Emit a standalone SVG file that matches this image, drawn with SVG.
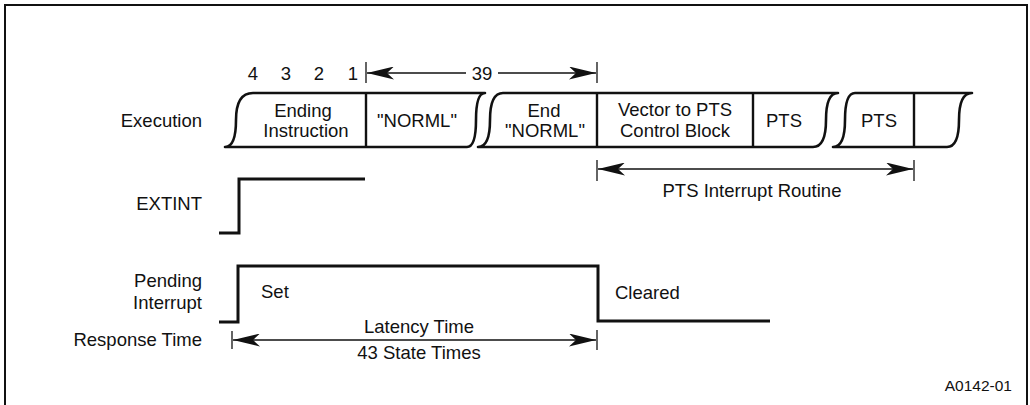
<svg xmlns="http://www.w3.org/2000/svg" width="1030" height="405" viewBox="0 0 1030 405">
<style>
text{font-family:"Liberation Sans",Arial,sans-serif;font-size:18.5px;fill:#111}
.m{text-anchor:middle}
.r{text-anchor:end}
.seg{fill:#fff;stroke:#111;stroke-width:2.6;stroke-linejoin:round}
.div{stroke:#111;stroke-width:2.4}
.wave{fill:none;stroke:#111;stroke-width:3}
.dim{stroke:#111;stroke-width:1.3;fill:none}
.tick{stroke:#111;stroke-width:1.3}
</style>
<defs>
<marker id="ah" viewBox="0 0 27 13" markerWidth="27" markerHeight="13" refX="27" refY="6.5" orient="auto-start-reverse" markerUnits="userSpaceOnUse">
<path d="M0,0 L27,6.5 L0,13 L7,6.5 Z" fill="#111"/>
</marker>
</defs>
<rect width="1030" height="405" fill="#fff"/>
<path d="M5,406 V5 H1027 V406" fill="none" stroke="#111" stroke-width="2"/>

<g id="labels">
<text class="r" x="202" y="127">Execution</text>
<text class="r" x="202" y="210">EXTINT</text>
<text class="r" x="202" y="287">Pending</text>
<text class="r" x="202" y="309">Interrupt</text>
<text class="r" x="202" y="346">Response Time</text>
<text class="m" x="253" y="80">4</text>
<text class="m" x="286" y="80">3</text>
<text class="m" x="319" y="80">2</text>
<text class="m" x="353" y="80">1</text>
<text x="1012" y="391" class="r" style="font-size:15.5px">A0142-01</text>
</g>

<g id="seg1">
<path class="seg" d="M253,93 H485 Q476,93 476,120 Q476,147 467,147 H225 Q236,147 236,120 Q236,93 253,93 Z"/>
<line class="div" x1="366" y1="93" x2="366" y2="147"/>
<text class="m" x="303" y="117">Ending</text>
<text class="m" x="306" y="137">Instruction</text>
<text class="m" x="417" y="127">"NORML"</text>
</g>

<g id="seg2">
<path class="seg" d="M503,93 H838 Q826,93 826,120 Q826,147 813,147 H478 Q490,147 490,120 Q490,93 503,93 Z"/>
<line class="div" x1="597" y1="93" x2="597" y2="147"/>
<line class="div" x1="753" y1="93" x2="753" y2="147"/>
<text class="m" x="544" y="117">End</text>
<text class="m" x="545" y="137">"NORML"</text>
<text class="m" x="675" y="116">Vector to PTS</text>
<text class="m" x="675" y="137">Control Block</text>
<text class="m" x="784" y="127">PTS</text>
</g>

<g id="seg3">
<path class="seg" d="M855,93 H972 Q959,93 959,120 Q959,147 947,147 H833 Q845,147 845,120 Q845,93 855,93 Z"/>
<line class="div" x1="914" y1="93" x2="914" y2="147"/>
<text class="m" x="879" y="127">PTS</text>
</g>

<g id="extint">
<path class="wave" d="M219,233 H239 V179 H365"/>
</g>

<g id="pending">
<path class="wave" d="M219,322 H238 V266 H598 V321 H770"/>
<text x="261" y="298">Set</text>
<text x="615" y="299">Cleared</text>
</g>

<g id="connectors">
<line class="tick" x1="366" y1="62" x2="366" y2="83"/>
<line class="tick" x1="597" y1="62" x2="597" y2="83"/>
<line class="dim" x1="367" y1="73" x2="466" y2="73" marker-start="url(#ah)"/>
<line class="dim" x1="498" y1="73" x2="596" y2="73" marker-end="url(#ah)"/>
<text class="m" x="482" y="80">39</text>

<line class="tick" x1="597" y1="160" x2="597" y2="181"/>
<line class="tick" x1="914" y1="160" x2="914" y2="181"/>
<line class="dim" x1="598" y1="169" x2="913" y2="169" marker-start="url(#ah)" marker-end="url(#ah)"/>
<text class="m" x="752" y="197">PTS Interrupt Routine</text>

<line class="tick" x1="232" y1="331" x2="232" y2="349"/>
<line class="tick" x1="597" y1="330" x2="597" y2="350"/>
<line class="dim" x1="233" y1="340" x2="596" y2="340" marker-start="url(#ah)" marker-end="url(#ah)"/>
<text class="m" x="419" y="333">Latency Time</text>
<text class="m" x="419" y="359">43 State Times</text>
</g>
</svg>
